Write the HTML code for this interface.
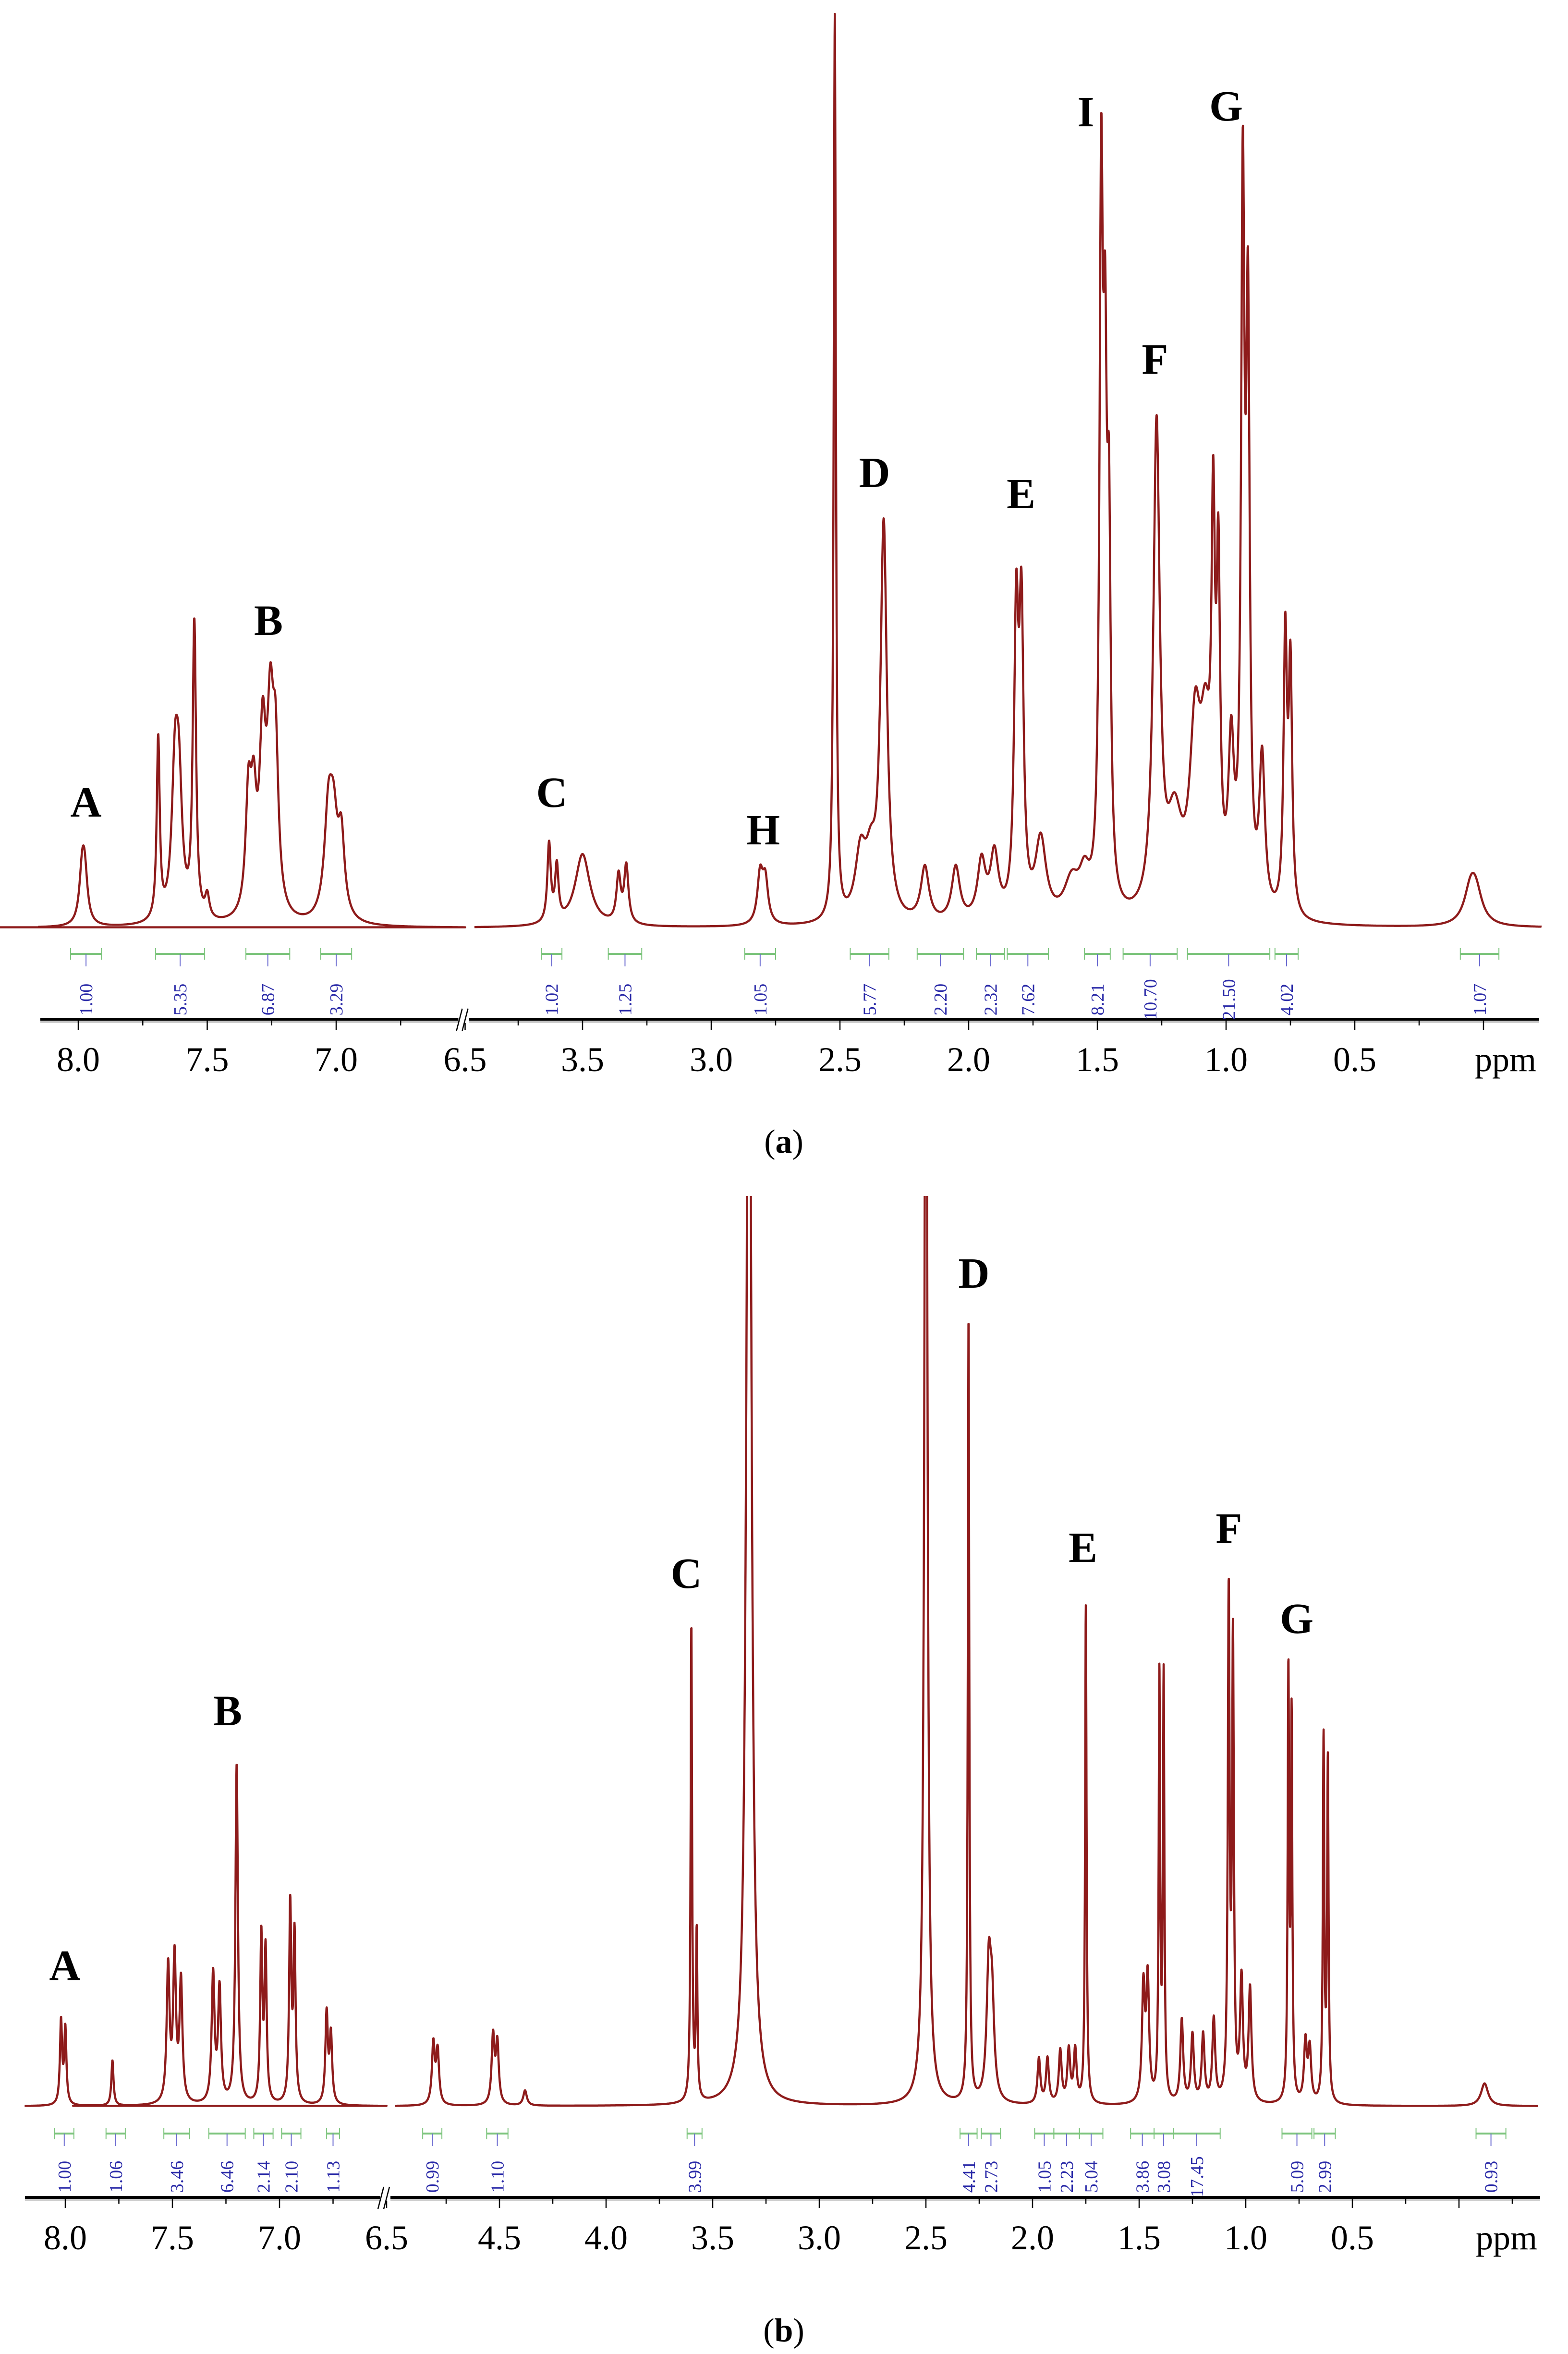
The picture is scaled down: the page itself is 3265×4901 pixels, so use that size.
<!DOCTYPE html>
<html><head><meta charset="utf-8"><style>
html,body{margin:0;padding:0;background:#fff}
svg{display:block}
.tk{font-family:"Liberation Serif",serif;font-size:72px;fill:#000}
.lb{font-family:"Liberation Serif",serif;font-size:90px;font-weight:bold;fill:#000}
.iv{font-family:"Liberation Serif",serif;font-size:38px;fill:#2a2aa8}
.cap{font-family:"Liberation Serif",serif;font-size:70px;fill:#000}
</style></head><body>
<svg id="s" xmlns="http://www.w3.org/2000/svg" width="3265" height="4901" viewBox="0 0 3265 4901">
<defs><clipPath id="cb"><rect x="0" y="2490" width="3265" height="2000"/></clipPath></defs>
<g id="ga"></g>
<g id="gb" clip-path="url(#cb)"></g>
<g id="axa"></g>
<g id="axb"></g>
<g id="ia"></g>
<g id="ib"></g>
<g>
<text class="lb" x="179" y="1700" text-anchor="middle">A</text>
<text class="lb" x="559" y="1322" text-anchor="middle">B</text>
<text class="lb" x="1149" y="1680" text-anchor="middle">C</text>
<text class="lb" x="1589" y="1758" text-anchor="middle">H</text>
<text class="lb" x="1821" y="1014" text-anchor="middle">D</text>
<text class="lb" x="2126" y="1058" text-anchor="middle">E</text>
<text class="lb" x="2261" y="263" text-anchor="middle">I</text>
<text class="lb" x="2405" y="778" text-anchor="middle">F</text>
<text class="lb" x="2553" y="251" text-anchor="middle">G</text>
</g>
<g>
<text class="lb" x="135" y="4122" text-anchor="middle">A</text>
<text class="lb" x="474" y="3592" text-anchor="middle">B</text>
<text class="lb" x="1429" y="3306" text-anchor="middle">C</text>
<text class="lb" x="2028" y="2681" text-anchor="middle">D</text>
<text class="lb" x="2255" y="3252" text-anchor="middle">E</text>
<text class="lb" x="2559" y="3212" text-anchor="middle">F</text>
<text class="lb" x="2700" y="3400" text-anchor="middle">G</text>
</g>
<text class="cap" x="1632" y="2400" text-anchor="middle">(<tspan font-weight="bold">a</tspan>)</text>
<text class="cap" x="1632" y="4875" text-anchor="middle">(<tspan font-weight="bold">b</tspan>)</text>
</svg>
<script>
// Panel a peaks (ppm, intensity, half-width)
const ppmA=[7.985,7.975,7.69,7.625,7.61,7.55,7.50,7.34,7.32,7.285,7.255,7.235,7.03,7.01,6.98,3.63,3.60,3.50,3.36,3.33,2.81,2.79,2.52,2.42,2.38,2.33,2.17,2.05,1.95,1.90,1.815,1.795,1.72,1.60,1.55,1.485,1.47,1.455,1.27,1.20,1.12,1.08,1.05,1.03,0.98,0.935,0.915,0.86,0.77,0.75,0.05,0.03];
const intA=[32,30,120,90,80,195,15,75,65,110,120,95,65,55,50,52,36,48,31,38,32,28,600,42,33,260,36,36,38,42,190,190,52,24,24,450,290,220,320,58,110,100,220,200,100,460,370,100,180,160,21,19];
const wA=[0.013,0.013,0.007,0.015,0.015,0.008,0.01,0.013,0.013,0.015,0.015,0.013,0.019,0.019,0.015,0.008,0.008,0.035,0.01,0.01,0.013,0.013,0.005,0.025,0.025,0.015,0.019,0.019,0.019,0.019,0.01,0.01,0.025,0.035,0.025,0.008,0.008,0.008,0.015,0.035,0.025,0.025,0.008,0.008,0.013,0.008,0.008,0.013,0.008,0.008,0.03,0.03];
// Panel b peaks
const ppmB=[8.02,8.0,7.78,7.52,7.49,7.46,7.31,7.28,7.20,7.085,7.065,6.95,6.93,6.78,6.76,4.81,4.79,4.53,4.51,4.38,3.60,3.575,3.33,2.50,2.30,2.205,2.19,1.97,1.93,1.87,1.83,1.80,1.75,1.48,1.46,1.405,1.385,1.30,1.25,1.20,1.15,1.08,1.06,1.02,0.98,0.80,0.785,0.72,0.70,0.635,0.615,-0.12];
const intB=[55,50,30,90,95,80,85,75,225,110,100,130,110,60,45,40,35,45,40,10,315,110,900,900,520,85,60,30,30,35,35,35,330,75,80,280,280,55,45,45,55,330,300,80,75,280,250,40,35,240,225,15];
const wB=[0.006,0.006,0.006,0.008,0.008,0.008,0.008,0.008,0.007,0.006,0.006,0.006,0.006,0.007,0.007,0.008,0.008,0.008,0.008,0.01,0.004,0.004,0.013,0.008,0.004,0.012,0.012,0.008,0.008,0.008,0.008,0.008,0.004,0.008,0.008,0.004,0.004,0.008,0.008,0.008,0.008,0.005,0.005,0.008,0.008,0.004,0.004,0.008,0.008,0.004,0.004,0.02];
// Integrals
const intgA=["1.00","5.35","6.87","3.29","1.02","1.25","1.05","5.77","2.20","2.32","7.62","8.21","10.70","21.50","4.02","1.07"];
const intgAppm=[[8.03,7.91],[7.70,7.51],[7.35,7.18],[7.06,6.94],[3.66,3.58],[3.40,3.27],[2.87,2.75],[2.46,2.31],[2.20,2.02],[1.97,1.86],[1.85,1.69],[1.55,1.45],[1.40,1.19],[1.15,0.83],[0.81,0.72],[0.09,-0.06]];
const intgB=["1.00","1.06","3.46","6.46","2.14","2.10","1.13","0.99","1.10","3.99","4.41","2.73","1.05","2.23","5.04","3.86","3.08","17.45","5.09","2.99","0.93"];
const intgBppm=[[8.05,7.96],[7.81,7.72],[7.54,7.42],[7.33,7.16],[7.12,7.03],[6.99,6.90],[6.78,6.72],[4.86,4.77],[4.56,4.46],[3.62,3.55],[2.34,2.26],[2.24,2.15],[1.99,1.90],[1.90,1.78],[1.78,1.67],[1.54,1.43],[1.43,1.34],[1.34,1.12],[0.83,0.69],[0.68,0.58],[-0.08,-0.22]];
const ticksA=[8.0,7.5,7.0,6.5,3.5,3.0,2.5,2.0,1.5,1.0,0.5];
const ticksB=[8.0,7.5,7.0,6.5,4.5,4.0,3.5,3.0,2.5,2.0,1.5,1.0,0.5];

const NS="http://www.w3.org/2000/svg";
function xa(p){return p>=6.5?163+(8-p)*537:1213+(3.5-p)*536;}
function xb(p){return p>=6.5?136+(8-p)*446:1040+(4.5-p)*444;}
function ya(v){return 1932-v*3.14;}
function yb(v){return 4385-v*3.14;}
function spec(p,P,I,W){let s=0;for(let i=0;i<P.length;i++){const d=(p-P[i])/W[i];s+=I[i]/(1+d*d);}return s;}
function mk(tag,attrs,parent){const e=document.createElementNS(NS,tag);for(const k in attrs)e.setAttribute(k,attrs[k]);parent.appendChild(e);return e;}
function drawSpec(g,X,Y,P,I,W,segs,name){
  segs.forEach((sg,k)=>{let d="";for(let p=sg[0];p>=sg[1];p-=0.0008){d+=(d?"L":"M")+X(p).toFixed(1)+","+Y(spec(p,P,I,W)).toFixed(1);}
    const e=mk("path",{d:d,fill:"none",stroke:"#8e1b1b","stroke-width":"4.5","stroke-linejoin":"round"},g);
    
    
  });
}
drawSpec(document.getElementById("ga"),xa,ya,ppmA,intA,wA,[[8.156,6.47],[3.92,-0.226]],"spectrum-a");
drawSpec(document.getElementById("gb"),xb,yb,ppmB,intB,wB,[[8.19,6.47],[4.99,-0.37]],"spectrum-b");

function drawAxis(g,X,ay,ticks,x0,x1,majors,minors,brk,name){
  const l=mk("line",{x1:x0,x2:x1,y1:ay,y2:ay,stroke:"#000","stroke-width":"6"},g);
  
  
  mk("line",{x1:x0,x2:x1,y1:ay+6,y2:ay+6,stroke:"#ccc","stroke-width":"4"},g);
  majors.forEach(p=>{mk("line",{x1:X(p),x2:X(p),y1:ay,y2:ay+22,stroke:"#000","stroke-width":"2.5"},g);});
  minors.forEach(p=>{mk("line",{x1:X(p),x2:X(p),y1:ay,y2:ay+13,stroke:"#000","stroke-width":"2.5"},g);});
  ticks.forEach(p=>{const t=mk("text",{x:X(p),y:ay+108,"text-anchor":"middle",class:"tk"},g);t.textContent=p.toFixed(1);
    
    });
  const u=mk("text",{x:x1-70,y:ay+108,"text-anchor":"middle",class:"tk"},g);u.textContent="ppm";
  
  
  const bx=X(6.5);
  mk("rect",{x:bx-14,y:ay-8,width:22,height:16,fill:"#fff"},g);
  mk("line",{x1:bx-18,x2:bx-6,y1:ay+24,y2:ay-22,stroke:"#000","stroke-width":"2.5"},g);
  mk("line",{x1:bx-6,x2:bx+6,y1:ay+24,y2:ay-22,stroke:"#000","stroke-width":"2.5"},g);
}
drawAxis(document.getElementById("axa"),xa,2122,ticksA,84,3205,[8,7.5,7,6.5,3.5,3,2.5,2,1.5,1,0.5,0],[7.75,7.25,6.75,3.75,3.25,2.75,2.25,1.75,1.25,0.75,0.25],true,"x-axis-a");
drawAxis(document.getElementById("axb"),xb,4575,ticksB,52,3207,[8,7.5,7,6.5,4.5,4,3.5,3,2.5,2,1.5,1,0.5,0],[7.75,7.25,6.75,4.75,4.25,3.75,3.25,2.75,2.25,1.75,1.25,0.75,0.25,-0.25],true,"x-axis-b");

function drawInt(g,X,by,ty,labels,ranges,name){
  labels.forEach((s,i)=>{const a=X(ranges[i][0]),b=X(ranges[i][1]),c=(a+b)/2;
    mk("line",{x1:a,x2:b,y1:by,y2:by,stroke:"#7cc47c","stroke-width":"4"},g);
    mk("line",{x1:a,x2:a,y1:by-12,y2:by+12,stroke:"#7cc47c","stroke-width":"2"},g);
    mk("line",{x1:b,x2:b,y1:by-12,y2:by+12,stroke:"#7cc47c","stroke-width":"2"},g);
    mk("line",{x1:c,x2:c,y1:by,y2:by+26,stroke:"#6a6ad0","stroke-width":"2"},g);
    const t=mk("text",{x:0,y:0,"text-anchor":"middle",class:"iv",transform:"translate("+(c+13)+","+ty+") rotate(-90)"},g);
    t.textContent=s;
    
    
  });
}
drawInt(document.getElementById("ia"),xa,1986,2081,intgA,intgAppm,"integral-a");
drawInt(document.getElementById("ib"),xb,4442,4532,intgB,intgBppm,"integral-b");
</script>
</body></html>
